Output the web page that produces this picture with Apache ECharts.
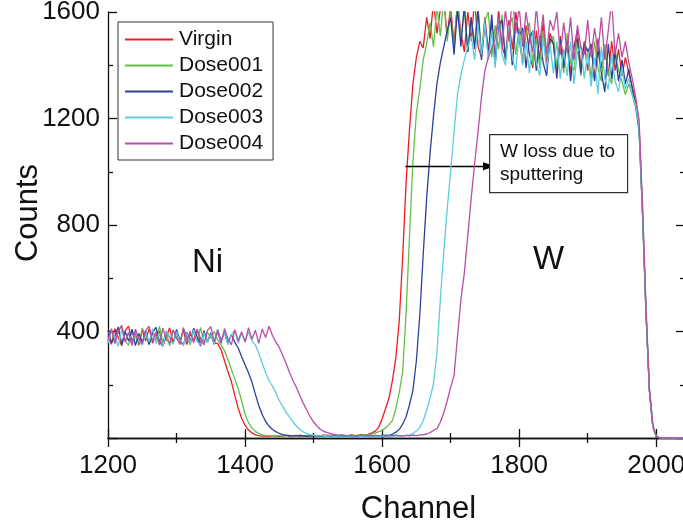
<!DOCTYPE html>
<html>
<head>
    <meta charset="UTF-8">
    <title>RBS spectra</title>
    <script src="https://cdn.jsdelivr.net/npm/echarts@6.0.0/dist/echarts.min.js"></script>
    <style>
        html, body { margin: 0; padding: 0; background: #fff; }
    </style>
</head>
<body>
<div id="rbs" style="width: 683px;height:527px;"></div>
</body>
</html>

<script>
    // channel numbers, one every 5 channels from 1200 to 2040
    var channels = [];
    for (var c = 1200; c <= 2040; c += 5) channels.push(c);

    var names = ['Virgin', 'Dose001', 'Dose002', 'Dose003', 'Dose004'];
    var colors = ['#ed1c24', '#62c04a', '#2e3f9a', '#5ecbe0', '#b84fa4'];

    var virgin = [
        385, 352, 411, 378, 346, 402, 420, 361, 398, 349,
        406, 364, 412, 356, 393, 401, 347, 379, 414, 358,
        396, 362, 405, 351, 391, 366, 409, 354, 397, 360,
        388, 356, 355, 332, 290, 250, 212, 160, 112, 74,
        48, 30, 19, 12, 9, 7, 8, 6, 9, 7,
        5, 8, 10, 6, 9, 7, 11, 8, 6, 9,
        7, 10, 8, 12, 9, 7, 10, 8, 11, 9,
        8, 12, 10, 9, 13, 11, 14, 19, 26, 40,
        72, 110, 150, 215, 300, 440, 680, 960, 1160, 1330,
        1430, 1490, 1465, 1580, 1500, 1640, 1520, 1610, 1650, 1510,
        1620, 1480, 1640, 1520, 1450, 1600, 1490, 1650, 1470, 1430,
        1580, 1450, 1560, 1420, 1610, 1470, 1430, 1570, 1460, 1600,
        1500, 1410, 1550, 1440, 1390, 1530, 1420, 1560, 1400, 1520,
        1480, 1380, 1510, 1410, 1500, 1370, 1470, 1530, 1390, 1490,
        1380, 1480, 1350, 1500, 1390, 1470, 1360, 1490, 1380, 1460,
        1360, 1430, 1370, 1320, 1260, 1170, 850, 480, 180, 45,
        6, 1, 0, 0, 0, 0, 0, 0, 0
    ];
    var dose001 = [
        362, 408, 355, 399, 421, 366, 348, 404, 380, 357,
        413, 385, 352, 401, 367, 419, 360, 394, 346, 405,
        379, 358, 410, 384, 350, 402, 363, 415, 356, 398,
        375, 400, 368, 350, 328, 295, 258, 222, 185, 140,
        88, 58, 38, 25, 17, 12, 9, 8, 10, 7,
        9, 6, 8, 10, 7, 9, 6, 8, 11, 7,
        9, 8, 6, 10, 8, 12, 7, 9, 8, 10,
        9, 11, 8, 12, 10, 13, 11, 15, 18, 24,
        28, 38, 50, 65, 110, 170, 250, 470, 760, 1040,
        1220, 1310, 1420, 1480, 1560, 1470, 1620, 1510, 1650, 1490,
        1600, 1460, 1640, 1500, 1610, 1450, 1580, 1480, 1620, 1440,
        1570, 1600, 1430, 1550, 1460, 1590, 1420, 1540, 1580, 1440,
        1540, 1410, 1520, 1560, 1400, 1500, 1390, 1530, 1430, 1480,
        1510, 1390, 1490, 1370, 1520, 1410, 1380, 1500, 1360, 1480,
        1460, 1350, 1490, 1390, 1340, 1480, 1370, 1330, 1460, 1380,
        1340, 1290, 1330, 1290, 1240, 1150, 840, 475, 178, 44,
        6, 1, 0, 0, 0, 0, 0, 0, 0
    ];
    var dose002 = [
        405, 358, 381, 417, 352, 399, 364, 409, 347, 393,
        360, 402, 351, 395, 416, 363, 345, 400, 378, 354,
        408, 366, 349, 397, 359, 412, 380, 345, 403, 361,
        394, 352, 407, 365, 398, 356, 389, 360, 338, 305,
        275, 245, 210, 165, 122, 88, 62, 45, 32, 24,
        17, 13, 11, 9, 8, 10, 7, 9, 6, 8,
        7, 9, 6, 8, 10, 7, 9, 6, 8, 7,
        9, 6, 8, 7, 10, 8, 9, 7, 10, 8,
        9, 11, 10, 14, 22, 32, 52, 80, 125, 180,
        290, 460, 690, 900, 1070, 1210, 1330, 1410, 1470, 1530,
        1580, 1440, 1610, 1470, 1630, 1450, 1580, 1460, 1610, 1420,
        1560, 1440, 1590, 1400, 1550, 1570, 1420, 1540, 1400, 1560,
        1510, 1540, 1390, 1500, 1530, 1380, 1510, 1410, 1360, 1500,
        1480, 1350, 1500, 1390, 1490, 1340, 1470, 1500, 1370, 1480,
        1450, 1480, 1340, 1460, 1370, 1300, 1480, 1350, 1450, 1340,
        1420, 1330, 1385, 1310, 1250, 1160, 845, 478, 180, 45,
        6, 1, 0, 0, 0, 0, 0, 0, 0
    ];
    var dose003 = [
        357, 400, 378, 345, 408, 362, 395, 351, 404, 366,
        349, 397, 361, 410, 355, 392, 344, 403, 376, 352,
        399, 360, 347, 394, 356, 405, 363, 350, 396, 359,
        390, 354, 402, 361, 395, 350, 388, 404, 356, 393,
        362, 398, 365, 350, 318, 282, 245, 215, 195, 170,
        140, 118, 96, 78, 60, 45, 32, 23, 17, 13,
        11, 9, 8, 10, 7, 9, 6, 8, 7, 9,
        6, 8, 7, 9, 6, 8, 7, 6, 8, 7,
        6, 8, 7, 9, 8, 7, 9, 10, 12, 17,
        26, 40, 65, 105, 150, 205, 320, 520, 700, 860,
        1000, 1150, 1290, 1365, 1420, 1470, 1510, 1420, 1550, 1440,
        1560, 1420, 1530, 1390, 1580, 1440, 1400, 1550, 1430, 1380,
        1520, 1400, 1490, 1370, 1530, 1410, 1360, 1500, 1390, 1480,
        1370, 1490, 1350, 1460, 1360, 1490, 1330, 1450, 1470, 1350,
        1450, 1320, 1430, 1290, 1470, 1350, 1310, 1440, 1340, 1300,
        1390, 1310, 1350, 1290, 1250, 1165, 848, 480, 180, 46,
        6, 1, 0, 0, 0, 0, 0, 0, 0
    ];
    var dose004 = [
        368, 411, 356, 402, 423, 361, 396, 347, 409, 372,
        354, 405, 420, 363, 398, 349, 412, 370, 358, 407,
        374, 351, 415, 366, 402, 357, 408, 375, 349, 404,
        418, 362, 400, 355, 411, 373, 350, 407, 365, 399,
        360, 414, 371, 405, 356, 409, 377, 420, 385, 360,
        340, 310, 280, 245, 215, 190, 160, 130, 105, 80,
        60, 45, 32, 25, 20, 16, 14, 12, 11, 10,
        8, 10, 7, 9, 11, 8, 10, 7, 9, 8,
        10, 7, 9, 8, 11, 9, 7, 10, 8, 11,
        9, 12, 12, 15, 20, 28, 35, 60, 95, 140,
        190, 235, 380, 520, 620, 760, 900, 1030, 1150, 1280,
        1380, 1430, 1460, 1500, 1580, 1470, 1610, 1490, 1660, 1520,
        1620, 1470, 1600, 1510, 1450, 1620, 1480, 1590, 1440, 1570,
        1530, 1600, 1440, 1560, 1450, 1580, 1420, 1550, 1470, 1440,
        1570, 1430, 1540, 1450, 1580, 1420, 1530, 1640, 1440, 1520,
        1430, 1490, 1410, 1350, 1280, 1195, 880, 500, 190, 50,
        7, 1, 0, 0, 0, 0, 0, 0, 0
    ];

    // arrow "W loss due to sputtering": from / to in data coords
    var arrowFrom = [1634, 1021];
    var arrowTo = [1756, 1021];

    var xTicks = {min: 1200, max: 2042, interval: 200};
    var yTicks = {min: 0, max: 1600, interval: 400};

    var font = "'Liberation Sans', Arial, sans-serif";
    var allData = [virgin, dose001, dose002, dose003, dose004];

    var series = [];
    for (let s = 0; s < names.length; s++) {
        var pts = [];
        for (let i = 0; i < channels.length; i++) {
            pts.push([channels[i], allData[s][i]]);
        }
        series.push({
            name: names[s],
            type: 'line',
            data: pts,
            showSymbol: false,
            symbol: 'none',
            clip: true,
            lineStyle: {color: colors[s], width: 1.3},
            itemStyle: {color: colors[s]},
            z: 2 + s
        });
    }
    series[4].markLine = {
        silent: true,
        symbol: ['none', 'triangle'],
        symbolSize: [8, 12],
        lineStyle: {color: '#000', width: 1.3, type: 'solid'},
        label: {show: false},
        data: [[{coord: arrowFrom}, {coord: arrowTo}]]
    };

    var axisLine = {show: true, lineStyle: {color: '#111', width: 1.3}};
    var tick = {show: true, inside: true, length: 9, lineStyle: {color: '#111', width: 1.3}};
    var minor = {show: true, splitNumber: 2, length: 5, lineStyle: {color: '#111', width: 1.3}};
    var plain = function (v) { return String(v); };

    var chart = echarts.init(document.getElementById('rbs'));

    option = {
        animation: false,
        backgroundColor: '#fff',
        textStyle: {fontFamily: font},
        grid: {left: 108, right: -2, top: 12, bottom: 89, outerBoundsMode: 'none'},
        legend: {
            data: names,
            orient: 'vertical',
            left: 118,
            top: 22,
            padding: [7, 10, 6, 7],
            itemGap: 5,
            itemWidth: 48,
            itemHeight: 2,
            icon: 'rect',
            selectedMode: false,
            backgroundColor: '#fff',
            borderColor: '#333',
            borderWidth: 1,
            textStyle: {fontFamily: font, fontSize: 21, lineHeight: 21, color: '#111', padding: [0, 0, 0, 1]}
        },
        xAxis: [
            {
                type: 'value',
                min: xTicks.min, max: xTicks.max, interval: xTicks.interval,
                name: 'Channel',
                nameLocation: 'middle',
                nameGap: 56,
                nameMoveOverlap: false,
                nameTextStyle: {fontFamily: font, fontSize: 31, color: '#111', padding: [0, 0, 0, 44]},
                axisLine: axisLine,
                axisTick: tick,
                minorTick: minor,
                splitLine: {show: false},
                axisLabel: {fontFamily: font, fontSize: 26, color: '#111', margin: 15, showMaxLabel: false, formatter: plain}
            },
            {
                type: 'value',
                position: 'top',
                min: xTicks.min, max: xTicks.max, interval: xTicks.interval,
                axisLine: axisLine,
                axisTick: tick,
                minorTick: minor,
                splitLine: {show: false},
                axisLabel: {show: false}
            }
        ],
        yAxis: [
            {
                type: 'value',
                min: yTicks.min, max: yTicks.max, interval: yTicks.interval,
                name: 'Counts',
                nameLocation: 'middle',
                nameGap: 64,
                nameMoveOverlap: false,
                nameTextStyle: {fontFamily: font, fontSize: 31, color: '#111', padding: [0, 0, 0, 24]},
                axisLine: axisLine,
                axisTick: tick,
                minorTick: minor,
                splitLine: {show: false},
                axisLabel: {fontFamily: font, fontSize: 26, color: '#111', margin: 8, showMinLabel: false, formatter: plain}
            },
            {
                type: 'value',
                position: 'right',
                min: yTicks.min, max: yTicks.max, interval: yTicks.interval,
                axisLine: axisLine,
                axisTick: tick,
                minorTick: minor,
                splitLine: {show: false},
                axisLabel: {show: false}
            }
        ],
        graphic: [
            {
                type: 'text', left: 192, top: 246, z: 10,
                style: {text: 'Ni', fontFamily: font, fontSize: 33, fill: '#111'}
            },
            {
                type: 'text', left: 533, top: 243, z: 10,
                style: {text: 'W', fontFamily: font, fontSize: 33, fill: '#111'}
            },
            {
                type: 'rect', left: 489, top: 134, z: 10,
                shape: {width: 138, height: 58},
                style: {fill: '#fff', stroke: '#333', lineWidth: 1.2}
            },
            {
                type: 'text', left: 500, top: 140, z: 11,
                style: {
                    text: 'W loss due to\nsputtering',
                    fontFamily: font, fontSize: 19, lineHeight: 23, fill: '#111'
                }
            }
        ],
        series: series
    };

    chart.setOption(option);
</script>
